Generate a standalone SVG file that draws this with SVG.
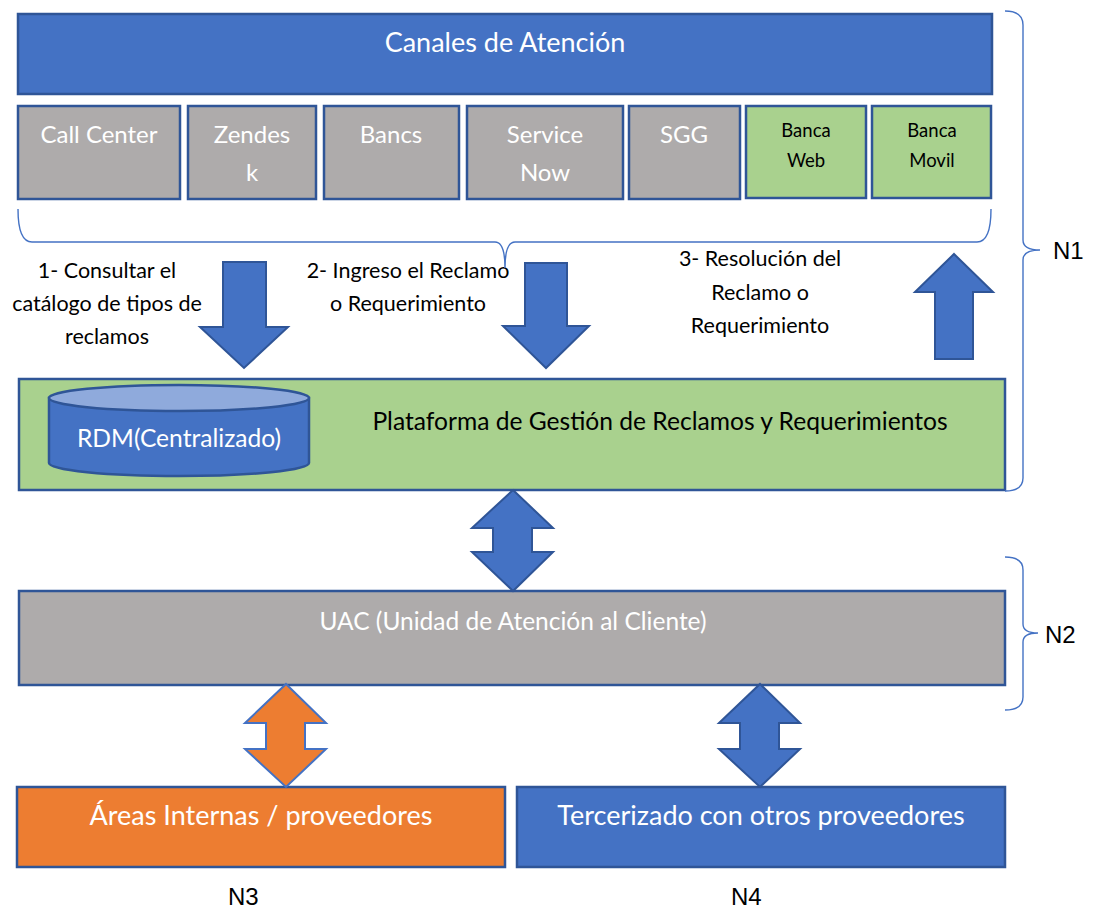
<svg xmlns="http://www.w3.org/2000/svg" width="1093" height="909" viewBox="0 0 1093 909">
  <style>
    .box { stroke: #2F5597; stroke-width: 2.5; }
    .blue { fill: #4472C4; }
    .gray { fill: #AEABAB; }
    .green { fill: #A9D18E; }
    .orange { fill: #ED7D31; }
    .t { font-family: Lato, "Open Sans", sans-serif; text-anchor: middle; }
    .w { fill: #FFFFFF; }
    .k { fill: #000000; }
    .step { font-size: 21.5px; }
    .lvl { font-family: "Liberation Sans", Arial, sans-serif; font-size: 24px; fill: #000000; }
    .brace { fill: none; stroke: #4472C4; stroke-width: 1.4; }
    .arrow { fill: #4472C4; stroke: #2F5597; stroke-width: 2; stroke-linejoin: miter; }
    .arrow-o { fill: #ED7D31; stroke: #4472C4; stroke-width: 2; }
  </style>

  <rect width="1093" height="909" fill="#FFFFFF"/>

  <!-- Channels header -->
  <g id="canales">
    <rect class="box blue" x="18" y="14" width="974" height="80"/>
    <text class="t w" x="505" y="52" font-size="27">Canales de Atención</text>
  </g>

  <!-- Individual channels -->
  <g id="call-center">
    <rect class="box gray" x="18" y="106" width="162" height="93"/>
    <text class="t w" x="99" y="143" font-size="24">Call Center</text>
  </g>
  <g id="zendesk">
    <rect class="box gray" x="188" y="106" width="128" height="93"/>
    <text class="t w" x="252" y="143" font-size="24">Zendes</text>
    <text class="t w" x="252" y="181" font-size="24">k</text>
  </g>
  <g id="bancs">
    <rect class="box gray" x="324" y="106" width="135" height="93"/>
    <text class="t w" x="391" y="143" font-size="24">Bancs</text>
  </g>
  <g id="service-now">
    <rect class="box gray" x="467" y="106" width="156" height="93"/>
    <text class="t w" x="545" y="143" font-size="24">Service</text>
    <text class="t w" x="545" y="181" font-size="24">Now</text>
  </g>
  <g id="sgg">
    <rect class="box gray" x="629" y="106" width="111" height="93"/>
    <text class="t w" x="684" y="143" font-size="24">SGG</text>
  </g>
  <g id="banca-web">
    <rect class="box green" x="746" y="106" width="120" height="92"/>
    <text class="t k" x="806" y="137" font-size="18.5">Banca</text>
    <text class="t k" x="806" y="167" font-size="18.5">Web</text>
  </g>
  <g id="banca-movil">
    <rect class="box green" x="872" y="106" width="119" height="92"/>
    <text class="t k" x="932" y="137" font-size="18.5">Banca</text>
    <text class="t k" x="932" y="167" font-size="18.5">Movil</text>
  </g>

  <!-- Step labels -->
  <g id="paso-1">
    <text class="t k step" x="107" y="278">1- Consultar el</text>
    <text class="t k step" x="107" y="311">catálogo de tipos de</text>
    <text class="t k step" x="107" y="344">reclamos</text>
  </g>
  <g id="paso-2">
    <text class="t k step" x="408" y="278">2- Ingreso el Reclamo</text>
    <text class="t k step" x="408" y="311">o Requerimiento</text>
  </g>
  <g id="paso-3">
    <text class="t k step" x="760" y="266">3- Resolución del</text>
    <text class="t k step" x="760" y="300">Reclamo o</text>
    <text class="t k step" x="760" y="333">Requerimiento</text>
  </g>

  <!-- Claims management platform with central repository -->
  <g id="plataforma">
    <rect class="box green" x="19" y="379" width="986" height="111"/>
    <text class="t k" x="660" y="430" font-size="24.6">Plataforma de Gestión de Reclamos y Requerimientos</text>
  </g>
  <g id="rdm">
    <path d="M49,398 L49,463 A130,13 0 0 0 309,463 L309,398 Z" fill="#4472C4" stroke="#2F5597" stroke-width="2.5"/>
    <ellipse cx="179" cy="398" rx="130" ry="13" fill="#8FAADC" stroke="#2F5597" stroke-width="2.5"/>
    <text class="t w" x="179" y="447" font-size="24.6">RDM(Centralizado)</text>
  </g>

  <!-- Customer service unit -->
  <g id="uac">
    <rect class="box gray" x="19" y="591" width="986" height="94"/>
    <text class="t w" x="513" y="630" font-size="24.5">UAC (Unidad de Atención al Cliente)</text>
  </g>

  <!-- Resolution levels -->
  <g id="areas-internas">
    <rect class="box orange" x="17" y="787" width="488" height="80"/>
    <text class="t w" x="261" y="825" font-size="27">Áreas Internas / proveedores</text>
  </g>
  <g id="tercerizado">
    <rect class="box blue" x="517" y="787" width="488" height="80"/>
    <text class="t w" x="761" y="825" font-size="27">Tercerizado con otros proveedores</text>
  </g>

  <!-- Connectors: block arrows and braces -->
  <g id="conectores">
    <polygon class="arrow" points="223,262 266,262 266,327 288,327 244,368 200,327 223,327"/>
    <polygon class="arrow" points="525,263 567,263 567,326 589,326 546,368 503,326 525,326"/>
    <polygon class="arrow" points="954,254 993,292 973,292 973,359 935,359 935,292 915,292"/>
    <polygon class="arrow" points="513,490 553,528 532,528 532,552 553,552 513,591 472,552 493,552 493,528 472,528"/>
    <polygon class="arrow-o" points="286,684 326,723 305,723 305,749 326,749 286,787 245,749 266,749 266,723 245,723"/>
    <polygon class="arrow" points="760,684 800,723 779,723 779,749 800,749 760,787 719,749 740,749 740,723 719,723"/>

    <path class="brace" d="M18,209 Q18,242 32,242 L495,242 Q505,242 505,268 Q505,242 515,242 L977,242 Q991,242 991,209"/>
    <path class="brace" d="M1005,11 Q1023,11 1023,25 L1023,240 Q1023,250 1040,250 Q1023,250 1023,260 L1023,478 Q1023,491 1005,491"/>
    <path class="brace" d="M1005,557 Q1023,557 1023,570 L1023,624 Q1023,633 1038,633 Q1023,633 1023,642 L1023,697 Q1023,710 1005,710"/>
  </g>

  <!-- Level tags -->
  <g id="niveles">
    <text class="lvl" x="1053" y="259">N1</text>
    <text class="lvl" x="1045" y="643">N2</text>
    <text class="lvl" x="228" y="905">N3</text>
    <text class="lvl" x="731" y="905">N4</text>
  </g>
</svg>
